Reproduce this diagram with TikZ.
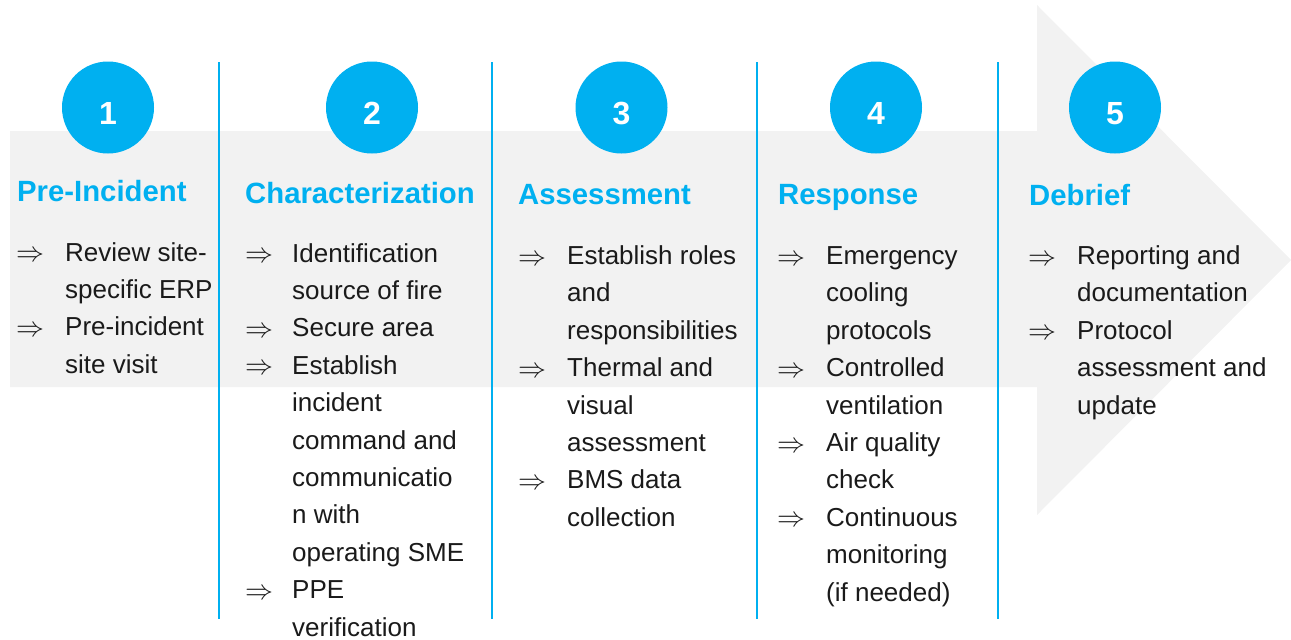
\documentclass[tikz,border=0pt]{standalone}
\usepackage{graphicx}
\usepackage{fontspec}
\setmainfont{Liberation Sans}

\definecolor{stepblue}{HTML}{00B0F0}
\definecolor{bandgray}{HTML}{F2F2F2}
\definecolor{bodytext}{HTML}{1A1A1A}

\tikzset{
  band/.style={fill=bandgray, draw=none},
  divider/.style={draw=stepblue, line width=2.6pt},
  badge/.style={circle, fill=stepblue, draw=none, minimum size=92pt, inner sep=0pt},
  badgenum/.style={anchor=base, text=white, inner sep=0pt, font=\fontsize{32}{36}\selectfont\bfseries},
  phasetitle/.style={anchor=base west, text=stepblue, inner sep=0pt, font=\fontsize{29.3}{32}\selectfont\bfseries},
  bodyline/.style={anchor=base west, text=bodytext, inner sep=0pt, font=\fontsize{26}{32}\selectfont},
  bullet/.style={anchor=base west, text=bodytext, inner sep=0pt},
}

% one column of text lines: name prefix, x, first baseline, lines
\newcommand\columnlines[4]{%
  \foreach \t [count=\i from 0] in {#4} {
    \node[bodyline] (#1-\i) at (#2, #3+\i*37.4) {\t};
  }%
}
% bullet arrows: name prefix, x, first baseline, line indices
\newcommand\columnbullets[4]{%
  \foreach \k in {#4} {
    \node[bullet] (#1-\k) at (#2-1, #3+\k*37.4+0.5) {\scalebox{2.8}{$\Rightarrow$}};
  }%
}

\begin{document}
\begin{tikzpicture}[x=1pt, y=-1pt]
  \useasboundingbox (0,0) rectangle (1291,640);

  % big process arrow in the background
  \path[band] (10,131) -- (1037,131) -- (1037,5) -- (1291,260)
              -- (1037,515) -- (1037,387) -- (10,387) -- cycle;

  % column dividers
  \foreach \x [count=\n] in {219, 492, 757, 998} {
    \coordinate (div\n-top) at (\x, 62);
    \coordinate (div\n-bot) at (\x, 619);
    \draw[divider] (div\n-top) -- (div\n-bot);
  }

  % numbered badges
  \foreach \cx/\num in {108/1, 372/2, 621.5/3, 876/4, 1115/5} {
    \node[badge] (badge\num) at (\cx, 107.5) {};
    \node[badgenum] (badgenum\num) at (\cx, 124) {\num};
  }

  % phase titles
  \node[phasetitle] (title1) at (17, 201)   {Pre-Incident};
  \node[phasetitle] (title2) at (245, 203)  {Characterization};
  \node[phasetitle] (title3) at (518, 204)  {Assessment};
  \node[phasetitle] (title4) at (778, 204)  {Response};
  \node[phasetitle] (title5) at (1029, 205) {Debrief};

  % column 1
  \columnbullets{c1a}{17}{261}{0,2}
  \columnlines{c1t}{65}{261}{Review site-, specific ERP, Pre-incident, site visit}

  % column 2
  \columnbullets{c2a}{246}{262}{0,2,3,9}
  \columnlines{c2t}{292}{262}{Identification, source of fire, Secure area, Establish,
    incident, command and, communicatio, n with, operating SME, PPE, verification}

  % column 3
  \columnbullets{c3a}{519}{264.5}{0,3,6}
  \columnlines{c3t}{567}{264.5}{Establish roles, and, responsibilities, Thermal and,
    visual, assessment, BMS data, collection}

  % column 4
  \columnbullets{c4a}{778}{264.5}{0,3,5,7}
  \columnlines{c4t}{826}{264.5}{Emergency, cooling, protocols, Controlled, ventilation,
    Air quality, check, Continuous, monitoring, (if needed)}

  % column 5
  \columnbullets{c5a}{1029}{264.5}{0,2}
  \columnlines{c5t}{1077}{264.5}{Reporting and, documentation, Protocol,
    assessment and, update}
\end{tikzpicture}
\end{document}
